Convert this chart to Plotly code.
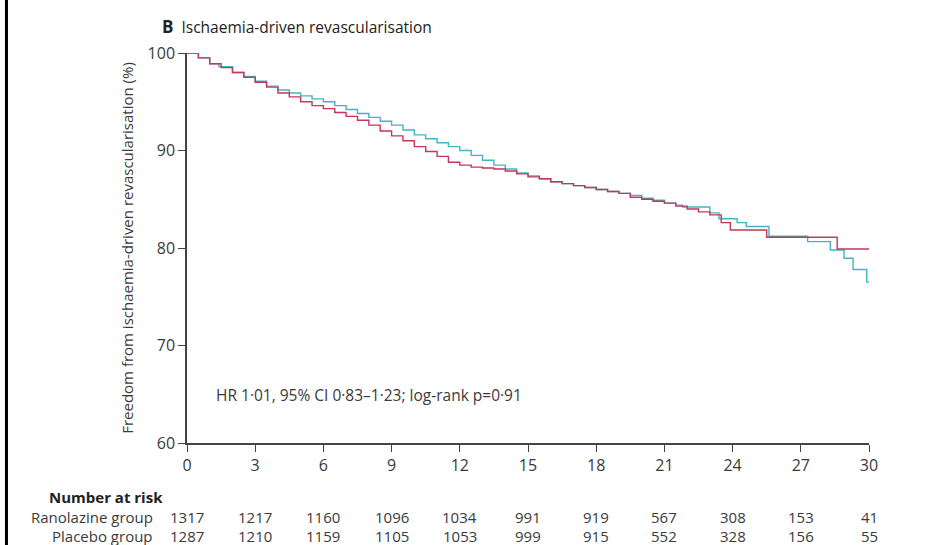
import plotly.graph_objects as go

# ---- data ----
months_teal = [0, 0.5, 1.0, 1.4, 2.0, 2.5, 3.0, 3.5, 4.0, 4.5, 5.0, 5.5, 6.0, 6.5, 7.0, 7.5,
               8.0, 8.5, 9.0, 9.5, 10.0, 10.5, 11.0, 11.5, 12.0, 12.5, 13.0, 13.5, 14.0, 14.5,
               15.0, 15.5, 16.0, 16.5, 17.0, 17.5, 18.0, 18.5, 19.0, 19.5, 20.0, 20.5, 21.0,
               21.5, 21.8, 23.0, 23.4, 24.2, 24.6, 25.6, 27.3, 28.3, 28.9, 29.3, 29.9, 30.0]
surv_teal = [100, 99.5, 98.9, 98.6, 98.0, 97.6, 97.1, 96.6, 96.2, 95.9, 95.6, 95.3, 95.0, 94.6,
             94.2, 93.8, 93.4, 93.0, 92.6, 92.1, 91.6, 91.2, 90.8, 90.4, 90.0, 89.5, 89.0, 88.5,
             88.1, 87.7, 87.4, 87.1, 86.8, 86.6, 86.4, 86.2, 86.0, 85.8, 85.6, 85.4, 85.1, 84.9,
             84.6, 84.4, 84.2, 83.6, 83.0, 82.6, 82.2, 81.2, 80.65, 79.8, 78.95, 77.8, 76.5, 76.5]

months_red = [0, 0.5, 1.0, 1.5, 2.0, 2.5, 3.0, 3.5, 4.0, 4.5, 5.0, 5.5, 6.0, 6.5, 7.0, 7.5,
              8.0, 8.5, 9.0, 9.5, 10.0, 10.5, 11.0, 11.5, 12.0, 12.5, 13.0, 13.5, 14.0, 14.5,
              15.0, 15.5, 16.0, 16.5, 17.0, 17.5, 18.0, 18.5, 19.0, 19.5, 20.0, 20.5, 21.0,
              21.5, 22.0, 22.5, 23.0, 23.5, 23.9, 25.5, 28.6, 30.0]
surv_red = [100, 99.5, 98.9, 98.5, 98.0, 97.5, 97.0, 96.5, 95.9, 95.5, 95.0, 94.6, 94.3, 93.9,
            93.5, 93.1, 92.6, 92.0, 91.5, 91.0, 90.4, 89.9, 89.4, 88.8, 88.5, 88.3, 88.2, 88.1,
            87.9, 87.6, 87.3, 87.1, 86.8, 86.6, 86.4, 86.2, 86.0, 85.8, 85.6, 85.2, 85.0, 84.8,
            84.6, 84.3, 84.0, 83.7, 83.4, 82.6, 81.85, 81.1, 79.9, 79.9]

tick_months = [0, 3, 6, 9, 12, 15, 18, 21, 24, 27, 30]
risk_ranolazine = [1317, 1217, 1160, 1096, 1034, 991, 919, 567, 308, 153, 41]
risk_placebo = [1287, 1210, 1159, 1105, 1053, 999, 915, 552, 328, 156, 55]

FONT = "Open Sans"
TXT = "#3a3a3a"

fig = go.Figure()
fig.add_trace(go.Scatter(x=months_teal, y=surv_teal, mode="lines", line_shape="hv",
                         line=dict(color="#45b3c3", width=1.4), name="Ranolazine group",
                         cliponaxis=False))
fig.add_trace(go.Scatter(x=months_red, y=surv_red, mode="lines", line_shape="hv",
                         line=dict(color="#c5365a", width=1.4), name="Placebo group",
                         cliponaxis=False))

ann = []
ann.append(dict(x=1.2, y=64.9, xref="x", yref="y", text="HR 1·01, 95% CI 0·83–1·23; log-rank p=0·91",
                showarrow=False, xanchor="left", yanchor="middle",
                font=dict(family=FONT, size=15.5, color=TXT)))
ann.append(dict(x=-0.04, y=1.067, xref="paper", yref="paper",
                text="<b><span style='font-size:17px'>B</span></b>  Ischaemia-driven revascularisation",
                showarrow=False, xanchor="left", yanchor="middle",
                font=dict(family=FONT, size=15.5, color="#222222")))
ann.append(dict(x=-0.032, y=-0.138, xref="paper", yref="paper", text="<b>Number at risk</b>",
                showarrow=False, xanchor="right", yanchor="middle",
                font=dict(family=FONT, size=15, color="#222222")))
ann.append(dict(x=-0.047, y=-0.19, xref="paper", yref="paper", text="Ranolazine group",
                showarrow=False, xanchor="right", yanchor="middle",
                font=dict(family=FONT, size=15, color=TXT)))
ann.append(dict(x=-0.047, y=-0.238, xref="paper", yref="paper", text="Placebo group",
                showarrow=False, xanchor="right", yanchor="middle",
                font=dict(family=FONT, size=15, color=TXT)))
for m, a, b in zip(tick_months, risk_ranolazine, risk_placebo):
    ann.append(dict(x=m, y=-0.19, xref="x", yref="paper", text=str(a), showarrow=False,
                    xanchor="center", yanchor="middle", font=dict(family=FONT, size=15, color=TXT)))
    ann.append(dict(x=m, y=-0.238, xref="x", yref="paper", text=str(b), showarrow=False,
                    xanchor="center", yanchor="middle", font=dict(family=FONT, size=15, color=TXT)))

fig.update_layout(
    width=925, height=545,
    margin=dict(l=187, r=56, t=53, b=102),
    paper_bgcolor="white", plot_bgcolor="white",
    showlegend=False,
    annotations=ann,
    font=dict(family=FONT, color=TXT),
    shapes=[dict(type="rect", xref="paper", yref="paper", x0=-0.2669, x1=-0.2625,
                 y0=-0.2615, y1=1.136, fillcolor="black", line=dict(width=0), layer="above")],
)
fig.update_xaxes(range=[0, 30], tickvals=tick_months, ticks="outside", ticklen=7, tickwidth=1.3,
                 tickcolor="#444", showline=True, linecolor="#444", linewidth=1.5,
                 showgrid=False, zeroline=False, tickfont=dict(family=FONT, size=16, color=TXT))
fig.update_yaxes(range=[60, 100], tickvals=[60, 70, 80, 90, 100], ticks="outside", ticklen=7,
                 tickwidth=1.3, tickcolor="#444", showline=True, linecolor="#444", linewidth=1.5,
                 showgrid=False, zeroline=False, tickfont=dict(family=FONT, size=16, color=TXT),
                 title=dict(text="Freedom from ischaemia-driven revascularisation (%)",
                            font=dict(family=FONT, size=15, color=TXT), standoff=10))

fig.write_html("out.html")
